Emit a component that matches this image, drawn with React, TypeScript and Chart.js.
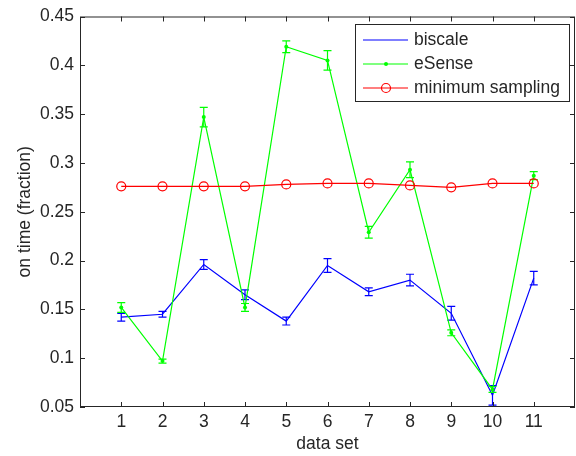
import { useEffect, useRef } from "react";
import { Chart, registerables, type ChartConfiguration, type Plugin } from "chart.js";

Chart.register(...registerables);

const dataSets = [1, 2, 3, 4, 5, 6, 7, 8, 9, 10, 11];
const yTicks = [0.05, 0.1, 0.15, 0.2, 0.25, 0.3, 0.35, 0.4, 0.45];

const biscale = [0.142, 0.145, 0.196, 0.165, 0.138, 0.195, 0.168, 0.18, 0.146, 0.062, 0.182];
const biscaleErr = [0.004, 0.003, 0.005, 0.005, 0.004, 0.007, 0.004, 0.006, 0.007, 0.01, 0.007];

const eSense = [0.152, 0.097, 0.347, 0.152, 0.419, 0.405, 0.229, 0.293, 0.126, 0.068, 0.287];
const eSenseErr = [0.005, 0.002, 0.01, 0.004, 0.006, 0.01, 0.006, 0.008, 0.003, 0.003, 0.004];

const minSampling = [0.276, 0.276, 0.276, 0.276, 0.278, 0.279, 0.279, 0.277, 0.275, 0.279, 0.279];

const FONT = '"Liberation Sans", Arial, sans-serif';
const FONT_SIZE = 17.5;
const AXIS = "#262626";

const toPoints = (vals: number[]) => vals.map((y, i) => ({ x: dataSets[i], y }));

// error bars, drawn right after the dataset they belong to
const errorBars: Plugin<"line"> = {
  id: "errorBars",
  afterDatasetDraw(chart, args) {
    const errs = [biscaleErr, eSenseErr, null][args.index];
    if (!errs) return;
    const ds = chart.data.datasets[args.index];
    const vals = [biscale, eSense][args.index];
    const { ctx, scales, chartArea: a } = chart;
    ctx.save();
    ctx.beginPath();
    ctx.rect(a.left, a.top, a.right - a.left, a.bottom - a.top);
    ctx.clip();
    ctx.strokeStyle = ds.borderColor as string;
    ctx.lineWidth = 1.2;
    vals.forEach((v, i) => {
      const x = scales.x.getPixelForValue(dataSets[i]);
      const y1 = scales.y.getPixelForValue(v - errs[i]);
      const y2 = scales.y.getPixelForValue(v + errs[i]);
      ctx.beginPath();
      ctx.moveTo(x, y1);
      ctx.lineTo(x, y2);
      ctx.moveTo(x - 4, y1);
      ctx.lineTo(x + 4, y1);
      ctx.moveTo(x - 4, y2);
      ctx.lineTo(x + 4, y2);
      ctx.stroke();
    });
    ctx.restore();
  },
};

// matlab style box with inward ticks, axis titles and the boxed legend
const frame: Plugin<"line"> = {
  id: "frame",
  afterDraw(chart) {
    const { ctx, chartArea: a, scales } = chart;
    ctx.save();
    ctx.strokeStyle = AXIS;
    ctx.lineWidth = 1;
    ctx.strokeRect(a.left + 0.5, a.top + 0.5, a.right - a.left - 1, a.bottom - a.top - 1);
    ctx.beginPath();
    dataSets.forEach((v) => {
      const x = Math.round(scales.x.getPixelForValue(v)) + 0.5;
      ctx.moveTo(x, a.bottom);
      ctx.lineTo(x, a.bottom - 5);
      ctx.moveTo(x, a.top);
      ctx.lineTo(x, a.top + 5);
    });
    yTicks.forEach((v) => {
      const y = Math.round(scales.y.getPixelForValue(v)) + 0.5;
      ctx.moveTo(a.left, y);
      ctx.lineTo(a.left + 5, y);
      ctx.moveTo(a.right, y);
      ctx.lineTo(a.right - 5, y);
    });
    ctx.stroke();

    ctx.fillStyle = AXIS;
    ctx.font = `${FONT_SIZE}px ${FONT}`;
    ctx.textAlign = "center";
    ctx.textBaseline = "middle";
    ctx.fillText("data set", (a.left + a.right) / 2, 444);
    ctx.save();
    ctx.translate(25, (a.top + a.bottom) / 2);
    ctx.rotate(-Math.PI / 2);
    ctx.fillText("on time (fraction)", 0, 0);
    ctx.restore();

    // legend
    const lx = 355;
    const ly = 24;
    ctx.fillStyle = "#fff";
    ctx.fillRect(lx, ly, 214, 77);
    ctx.strokeStyle = AXIS;
    ctx.strokeRect(lx + 0.5, ly + 0.5, 214, 77);
    ctx.textAlign = "left";
    chart.data.datasets.forEach((ds, i) => {
      const y = 40 + i * 24;
      const color = ds.borderColor as string;
      ctx.strokeStyle = color;
      ctx.lineWidth = 1.2;
      ctx.beginPath();
      ctx.moveTo(363, y);
      ctx.lineTo(408, y);
      ctx.stroke();
      if (i === 1) {
        ctx.fillStyle = color;
        ctx.beginPath();
        ctx.arc(386, y, 2, 0, Math.PI * 2);
        ctx.fill();
      } else if (i === 2) {
        ctx.beginPath();
        ctx.arc(386, y, 4.5, 0, Math.PI * 2);
        ctx.stroke();
      }
      ctx.fillStyle = AXIS;
      ctx.fillText(ds.label ?? "", 414, y);
    });
    ctx.restore();
  },
};

export default function App() {
  const canvasRef = useRef<HTMLCanvasElement | null>(null);

  useEffect(() => {
    const el = canvasRef.current;
    if (!el) return;

    const cfg: ChartConfiguration<"line"> = {
      type: "line",
      data: {
        datasets: [
          {
            label: "biscale",
            data: toPoints(biscale),
            borderColor: "#0000ff",
            backgroundColor: "#0000ff",
            borderWidth: 1.2,
            pointRadius: 0,
            order: 2,
          },
          {
            label: "eSense",
            data: toPoints(eSense),
            borderColor: "#00ff00",
            backgroundColor: "#00ff00",
            borderWidth: 1.2,
            pointRadius: 2,
            pointBorderWidth: 0,
            order: 1,
          },
          {
            label: "minimum sampling",
            data: toPoints(minSampling),
            borderColor: "#ff0000",
            backgroundColor: "rgba(0,0,0,0)",
            borderWidth: 1.2,
            pointRadius: 4.5,
            pointBorderWidth: 1.2,
            order: 0,
          },
        ],
      },
      options: {
        responsive: false,
        animation: false,
        layout: { autoPadding: false, padding: { left: 0, right: 1, top: 16, bottom: 0 } },
        plugins: {
          legend: { display: false },
          tooltip: { enabled: false },
        },
        scales: {
          x: {
            type: "linear",
            min: 0,
            max: 12,
            afterBuildTicks: (s) => {
              s.ticks = dataSets.map((value) => ({ value }));
            },
            afterFit: (s) => {
              s.height = 49;
              s.paddingLeft = 0;
              s.paddingRight = 0;
            },
            grid: { display: false, drawTicks: false },
            border: { display: false },
            ticks: {
              color: AXIS,
              font: { family: FONT, size: FONT_SIZE },
              padding: 5,
              maxRotation: 0,
            },
          },
          y: {
            type: "linear",
            min: 0.05,
            max: 0.45,
            afterBuildTicks: (s) => {
              s.ticks = yTicks.map((value) => ({ value }));
            },
            afterFit: (s) => {
              s.width = 80;
            },
            grid: { display: false, drawTicks: false },
            border: { display: false },
            ticks: {
              color: AXIS,
              font: { family: FONT, size: FONT_SIZE },
              padding: 6,
              callback: (v) => String(Number(Number(v).toFixed(2))),
            },
          },
        },
      },
      plugins: [errorBars, frame],
    };

    const chart = new Chart(el, cfg);
    return () => chart.destroy();
  }, []);

  return (
    <div style={{ position: "absolute", left: 0, top: 0, width: 576, height: 456, background: "#fff" }}>
      <canvas ref={canvasRef} width={576} height={456} />
    </div>
  );
}
